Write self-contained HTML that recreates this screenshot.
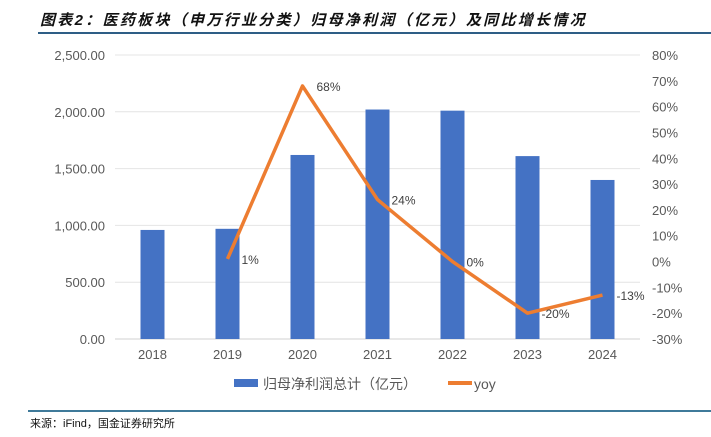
<!DOCTYPE html>
<html><head><meta charset="utf-8"><style>
body{margin:0;width:711px;height:437px;background:#fff;overflow:hidden;font-family:"Liberation Sans","Noto Sans CJK SC",sans-serif}
svg{position:absolute;left:0;top:0}
</style></head><body>
<svg id="c" width="711" height="437">
<text x="40" y="25" font-size="15" font-weight="bold" font-style="italic" letter-spacing="2.3" fill="#111" font-family="'Liberation Sans','Noto Sans CJK SC',sans-serif">图表2：医药板块（申万行业分类）归母净利润（亿元）及同比增长情况</text>
<line x1="38" y1="33" x2="711" y2="33" stroke="#2e5e86" stroke-width="2"/>
<line x1="28" y1="411" x2="711" y2="411" stroke="#3f7a9a" stroke-width="2"/>
<text x="30" y="427" font-size="11" fill="#111">来源：iFind，国金证券研究所</text>
<g id="g"></g>
</svg>
<script>
const categories=["2018","2019","2020","2021","2022","2023","2024"];
const profitValues=[960,970,1620,2020,2010,1610,1400];
const yoyValues=[null,1,68,24,0,-20,-13];
const leftTicks=[0,500,1000,1500,2000,2500];
const rightTicks=[-30,-20,-10,0,10,20,30,40,50,60,70,80];
const NS="http://www.w3.org/2000/svg";
const g=document.getElementById('g');
const x0=115,x1=640,yTop=55,yBot=339;
const step=(x1-x0)/categories.length;
const xc=i=>x0+step*(i+0.5);
const yL=v=>yBot-(v/2500)*(yBot-yTop);
const yR=v=>yBot-((v+30)/110)*(yBot-yTop);
function el(t,a,txt){const e=document.createElementNS(NS,t);for(const k in a)e.setAttribute(k,a[k]);if(txt!=null)e.textContent=txt;g.appendChild(e);return e;}
leftTicks.forEach(v=>{
 const l=el('line',{x1:x0,x2:x1,y1:yL(v),y2:yL(v),stroke:v===0?'#d0d0d0':'#e4e4e4'});
 
 
 const t=el('text',{x:105,y:yL(v)+5,'text-anchor':'end','font-size':13,fill:'#595959'},v.toLocaleString('en-US',{minimumFractionDigits:2}));
 
 
});
rightTicks.forEach(v=>{
 const t=el('text',{x:652,y:yR(v)+5,'font-size':13,fill:'#595959'},v+'%');
 
 
});
categories.forEach((c,i)=>{
 const b=el('rect',{x:xc(i)-12,y:yL(profitValues[i]),width:24,height:yBot-yL(profitValues[i]),fill:'#4472c4'});
 
 
 const t=el('text',{x:xc(i),y:359,'text-anchor':'middle','font-size':13,fill:'#595959'},c);
 
 
});
let pts=[];
yoyValues.forEach((v,i)=>{if(v!=null)pts.push(xc(i)+','+yR(v));});
const pl=el('polyline',{points:pts.join(' '),fill:'none',stroke:'#ed7d31','stroke-width':3.5,'stroke-linejoin':'round'});


yoyValues.forEach((v,i)=>{if(v==null)return;
 const t=el('text',{x:xc(i)+14,y:yR(v)+5,'font-size':12,fill:'#404040'},v+'%');
 
 
});
const lb=el('rect',{x:234,y:379,width:24,height:8,fill:'#4472c4'});


const lt=el('text',{x:263,y:389,'font-size':14,fill:'#595959'},'归母净利润总计（亿元）');


const ll=el('line',{x1:448,x2:472,y1:383,y2:383,stroke:'#ed7d31','stroke-width':4});


const lt2=el('text',{x:474,y:389,'font-size':14,fill:'#595959'},'yoy');


</script>
</body></html>
